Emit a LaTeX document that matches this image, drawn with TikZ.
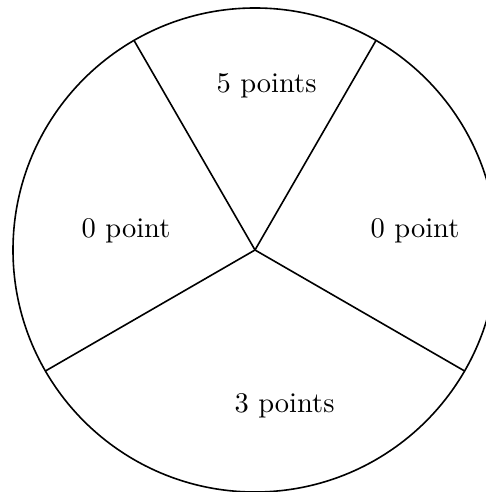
\documentclass[tikz,border=0pt]{standalone}
\begin{document}
\begin{tikzpicture}[x=1pt,y=1pt,
  lbl/.style={anchor=base,inner sep=0pt,font=\fontsize{10}{12}\selectfont},
  edge/.style={line width=1.6pt,line join=round}]
\useasboundingbox (0,0) rectangle (486,492);
\clip (0,0) rectangle (486,492);
\coordinate (O) at (255,242);
\draw[edge] (O) circle (242);
\draw[edge] (O) -- ++(120:242) coordinate (A);
\draw[edge] (O) -- ++(60:242) coordinate (B);
\draw[edge] (O) -- ++(210:242) coordinate (C);
\draw[edge] (O) -- ++(330:242) coordinate (D);
\node[lbl] (t5) at (266.5,399) {\scalebox{2.85}{5 points}};
\node[lbl] (tl) at (126,254) {\scalebox{2.85}{0 point}};
\node[lbl] (tr) at (415,254) {\scalebox{2.85}{0 point}};
\node[lbl] (t3) at (284.5,79) {\scalebox{2.85}{3 points}};
\end{tikzpicture}
\end{document}
